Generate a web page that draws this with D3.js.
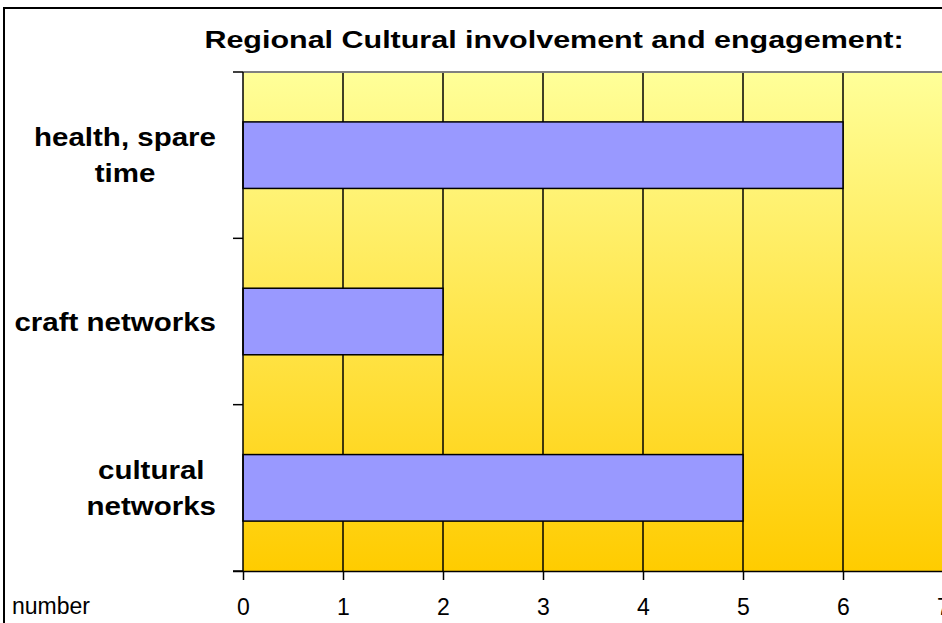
<!DOCTYPE html>
<html><head><meta charset="utf-8">
<script src="https://cdn.jsdelivr.net/npm/d3@7"></script>
<style>body{margin:0;background:#fff;overflow:hidden}svg{display:block}text{font-family:Arial,"Liberation Sans",sans-serif;fill:#000}</style>
</head><body>
<svg id="c" width="942" height="623"></svg>
<script>
const categories = ["health, spare time", "craft networks", "cultural networks"];
const categoryLines = [["health, spare", "time"], ["craft networks"], ["cultural", "networks"]];
const values = [6, 2, 5];
const xTicks = [0, 1, 2, 3, 4, 5, 6, 7];
const title = "Regional Cultural involvement and engagement:";
const axisUnit = "number";

const W = 942, H = 623;
const svg = d3.select("#c");
const m = {left: 243, top: 72, right: 943, bottom: 571};
const SX = 1.18;

const x = d3.scaleLinear().domain([0, 7]).range([m.left, m.right]);
const y = d3.scaleBand().domain(categories).range([m.top, m.bottom]).paddingInner(0.6).paddingOuter(0.3);

const defs = svg.append("defs");
const g = defs.append("linearGradient").attr("id", "bg").attr("x1", 0).attr("y1", 0).attr("x2", 0).attr("y2", 1);
g.append("stop").attr("offset", 0).attr("stop-color", "#FFFF99");
g.append("stop").attr("offset", 1).attr("stop-color", "#FFCC00");

// outer frame
svg.append("rect").attr("x", 4).attr("y", 8).attr("width", 1200).attr("height", 1200)
  .attr("fill", "none").attr("stroke", "#000").attr("stroke-width", 2);

// plot background
svg.append("rect").attr("x", m.left).attr("y", m.top).attr("width", m.right - m.left).attr("height", m.bottom - m.top)
  .attr("fill", "url(#bg)");

// gridlines
svg.append("g").selectAll("line").data(xTicks.filter(d => d > 0)).join("line")
  .attr("x1", d => x(d)).attr("x2", d => x(d)).attr("y1", m.top).attr("y2", m.bottom)
  .attr("stroke", "#000").attr("stroke-width", 1.5);

// top border
svg.append("line").attr("x1", m.left).attr("x2", m.right).attr("y1", m.top).attr("y2", m.top)
  .attr("stroke", "#808080").attr("stroke-width", 2);

// bars
svg.append("g").selectAll("rect").data(categories).join("rect")
  .attr("x", x(0)).attr("y", d => y(d)).attr("height", y.bandwidth())
  .attr("width", (d, i) => x(values[i]) - x(0))
  .attr("fill", "#9999FF").attr("stroke", "#000").attr("stroke-width", 1.5);

// y axis line + ticks at band boundaries
const bounds = d3.range(categories.length + 1).map(i => m.top + i * (m.bottom - m.top) / categories.length);
svg.append("line").attr("x1", m.left).attr("x2", m.left).attr("y1", m.top).attr("y2", m.bottom)
  .attr("stroke", "#000").attr("stroke-width", 1.5);
svg.append("g").selectAll("line").data(bounds).join("line")
  .attr("x1", m.left - 10).attr("x2", m.left).attr("y1", d => d).attr("y2", d => d)
  .attr("stroke", "#000").attr("stroke-width", 1.5);

// x axis
const xa = svg.append("g").attr("transform", `translate(0,${m.bottom})`)
  .call(d3.axisBottom(x).tickValues(xTicks).tickFormat(d3.format("d")).tickSize(9).tickSizeOuter(0));
xa.select(".domain").attr("stroke", "#000").attr("stroke-width", 1.5).attr("d", `M${m.left - 10},0.5H${m.right}`);
xa.selectAll(".tick line").attr("stroke", "#000").attr("stroke-width", 1.5);
xa.selectAll(".tick text").attr("font-size", 23).attr("font-family", "Arial, 'Liberation Sans', sans-serif")
  .attr("y", 44).attr("dy", 0)
  .attr("fill", "#000");

// unit label
svg.append("text").attr("x", 12).attr("y", 614).attr("font-size", 23).text(axisUnit);

// title
svg.append("text").attr("transform", `translate(554,48) scale(1.27,1)`).attr("text-anchor", "middle")
  .attr("font-size", 24).attr("font-weight", "bold").text(title);

// category labels: block right aligned at 217, lines centered within block
const LH = 36, FS = 25;
categories.forEach((c, i) => {
  const lines = categoryLines[i];
  const cy = y(c) + y.bandwidth() / 2;
  const tg = svg.append("g");
  const texts = lines.map((ln, j) => tg.append("text").attr("font-size", FS).attr("font-weight", "bold")
      .attr("text-anchor", "middle").text(ln));
  const maxW = d3.max(texts, t => t.node().getComputedTextLength()) * SX;
  const centerX = 216 - maxW / 2;
  const y0 = cy - (lines.length - 1) * LH / 2 + 9;
  texts.forEach((t, j) => t.attr("transform", `translate(${centerX},${y0 + j * LH}) scale(${SX},1)`));
});
</script>
</body></html>
